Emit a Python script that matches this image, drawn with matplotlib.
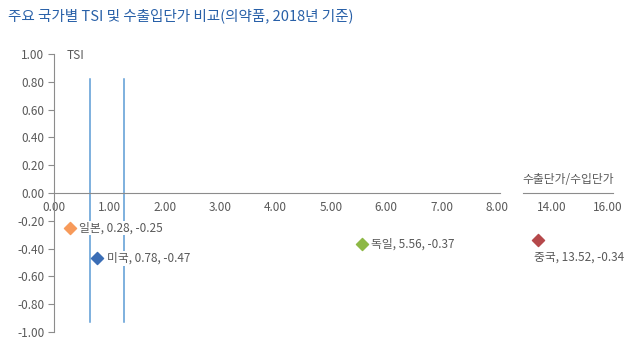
import numpy as np
import matplotlib.pyplot as plt

plt.rcParams['font.family'] = ['Noto Sans CJK KR', 'DejaVu Sans']

# data
countries = ['일본', '미국', '독일', '중국']
price_ratio = [0.28, 0.78, 5.56, 13.52]
tsi = [-0.25, -0.47, -0.37, -0.34]
colors = ['#F79A5A', '#3A6DB5', '#8DB845', '#B5484A']
vlines_x = [0.65, 1.26]
y_ticks = np.round(np.arange(-1.0, 1.01, 0.2), 2)
x_ticks_left = [0, 1, 2, 3, 4, 5, 6, 7, 8]
x_ticks_right = [14, 16]

axis_col = '#8C8C8C'
text_col = '#595959'
blue_line = '#5B9BD5'
fs = 8.5
label_box = dict(facecolor='white', edgecolor='none', pad=0.5)

fig = plt.figure(figsize=(6.36, 3.51), dpi=100)

fig.text(0.013, 0.955, '주요 국가별 TSI 및 수출입단가 비교(의약품, 2018년 기준)',
         color='#2860A8', fontsize=10.5, va='center', ha='left')

# left part of broken axis (0 ~ 8)
ax1 = fig.add_axes([0.085, 0.054, 0.701, 0.792])
ax1.set_xlim(0, 8.05)
ax1.set_ylim(-1, 1)
ax1.spines['top'].set_visible(False)
ax1.spines['right'].set_visible(False)
ax1.spines['bottom'].set_position(('data', 0))
ax1.spines['bottom'].set_color(axis_col)
ax1.spines['left'].set_color(axis_col)
ax1.set_yticks(y_ticks)
ax1.set_yticklabels(['%.2f' % (v + 0.0) for v in y_ticks], fontsize=fs, color=text_col)
ax1.set_xticks(x_ticks_left)
ax1.set_xticklabels(['%.2f' % v for v in x_ticks_left], fontsize=fs, color=text_col)
ax1.tick_params(axis='x', length=0, pad=6)
ax1.tick_params(axis='y', length=4, color=axis_col, pad=3)
ax1.patch.set_alpha(0)

for xv in vlines_x:
    ax1.plot([xv, xv], [0.82, -0.93], color=blue_line, lw=1.1, zorder=1)

ax1.text(0.23, 0.99, 'TSI', fontsize=fs, color=text_col, va='center', ha='left')

for i in range(3):
    ax1.scatter(price_ratio[i], tsi[i], marker='D', s=38, color=colors[i], zorder=3)
    ax1.text(price_ratio[i] + 0.17, tsi[i], '%s, %.2f, %.2f' % (countries[i], price_ratio[i], tsi[i]),
             fontsize=fs, color=text_col, va='center', ha='left', bbox=label_box, zorder=2)

# right part of broken axis (14 ~ 16)
ax2 = fig.add_axes([0.822, 0.054, 0.1415, 0.792])
ax2.set_xlim(12.96, 16.18)
ax2.set_ylim(-1, 1)
for s in ['top', 'right', 'left']:
    ax2.spines[s].set_visible(False)
ax2.spines['bottom'].set_position(('data', 0))
ax2.spines['bottom'].set_color(axis_col)
ax2.set_yticks([])
ax2.set_xticks(x_ticks_right)
ax2.set_xticklabels(['%.2f' % v for v in x_ticks_right], fontsize=fs, color=text_col)
ax2.tick_params(axis='x', length=0, pad=6)
ax2.patch.set_alpha(0)

ax2.text(14.6, 0.1, '수출단가/수입단가', fontsize=fs, color=text_col, va='center', ha='center')
ax2.scatter(price_ratio[3], tsi[3], marker='D', s=38, color=colors[3], zorder=3, clip_on=False)
ax2.text(price_ratio[3] + 1.45, tsi[3] - 0.12, '%s, %.2f, %.2f' % (countries[3], price_ratio[3], tsi[3]),
         fontsize=fs, color=text_col, va='center', ha='center', clip_on=False)

fig.savefig('out.png', dpi=100)
